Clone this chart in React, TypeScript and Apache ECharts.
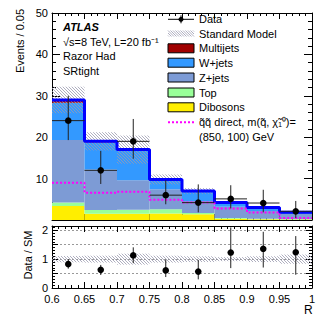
import React, { useEffect, useRef } from "react";
import * as echarts from "echarts";

// Bin edges of R
const binEdges = [0.6, 0.65, 0.7, 0.75, 0.8, 0.85, 0.9, 0.95, 1.0];
// Background components (events / 0.05)
const dibosons = [3.4, 1.5, 1.5, 1.6, 1.4, 0.3, 0.2, 0.1];
const topQuark = [0.85, 0.9, 1.0, 1.0, 0.3, 0.2, 0.1, 0.1];
const zjets = [15.05, 9.8, 7.1, 4.8, 2.9, 2.7, 1.9, 1.25];
const wjets = [9.0, 6.5, 7.1, 2.2, 2.2, 0.9, 0.7, 0.4];
const multijets = [0.7, 0.3, 0.3, 0.2, 0.2, 0.1, 0.1, 0.05];
// SM uncertainty (absolute)
const smUnc = [3.2, 2.2, 3.4, 1.2, 0.7, 0.3, 0.3, 0.3];
// Signal
const signal = [9.0, 6.6, 6.8, 4.9, 4.2, 2.8, 1.8, 0.5];
// Data
const dataVals = [24, 12, 19, 6, 4.2, 5.1, 4.1, 2.1];
const dataLo = [19.3, 8.7, 14.8, 3.8, 1.85, 2.8, 1.85, 0.5];
const dataHi = [30, 16.7, 24.4, 9.6, 8.6, 8.4, 7.3, 4.6];
// Ratio panel
const ratioVals = [0.83, 0.63, 1.13, 0.61, 0.57, 1.23, 1.36, 1.24];
const ratioLo = [0.67, 0.45, 0.86, 0.38, 0.3, 0.69, 0.71, 0.46];
const ratioHi = [1.0, 0.8, 1.41, 0.98, 0.97, 2.1, 1.95, 1.8];
const ratioUnc = [0.11, 0.12, 0.19, 0.12, 0.1, 0.07, 0.1, 0.16];

const FONT = "Liberation Sans, Arial, Helvetica, sans-serif";
const HATCH = "#9a9ab0";

function hatchLines(x0: number, y0: number, x1: number, y1: number, spacing: number, color: string) {
  const out: any[] = [];
  const cStart = x0 - y1;
  const cEnd = x1 - y0;
  const first = Math.ceil(cStart / spacing) * spacing;
  for (let c = first; c <= cEnd; c += spacing) {
    const xa = Math.max(x0, y0 + c);
    const xb = Math.min(x1, y1 + c);
    if (xb > xa) {
      out.push({
        type: "line",
        shape: { x1: xa, y1: xa - c, x2: xb, y2: xb - c },
        style: { stroke: color, lineWidth: 0.8 },
        silent: true,
      });
    }
  }
  return out;
}

export default function App() {
  const ref = useRef<HTMLDivElement>(null);
  useEffect(() => {
    const chart = echarts.init(ref.current!, null, { renderer: "svg" });
    const nb = dataVals.length;
    const comps = [
      { name: "Dibosons", vals: dibosons, color: "#ffee00" },
      { name: "Top", vals: topQuark, color: "#99ff99" },
      { name: "Z+jets", vals: zjets, color: "#7d9bd5" },
      { name: "W+jets", vals: wjets, color: "#3399ff" },
      { name: "Multijets", vals: multijets, color: "#a00000" },
    ];
    const base = new Array(nb).fill(0);
    const series: any[] = [];
    const rectRender = (color: string) => (params: any, api: any) => {
      const p0 = api.coord([api.value(0), api.value(3)]);
      const p1 = api.coord([api.value(1), api.value(2)]);
      return {
        type: "rect",
        shape: { x: p0[0], y: p0[1], width: p1[0] - p0[0], height: p1[1] - p0[1] },
        style: { fill: color },
      };
    };
    comps.forEach((c) => {
      const d = c.vals.map((v, i) => {
        const row = [binEdges[i], binEdges[i + 1], base[i], base[i] + v];
        base[i] += v;
        return row;
      });
      series.push({
        type: "custom",
        name: c.name,
        xAxisIndex: 0,
        yAxisIndex: 0,
        clip: true,
        renderItem: rectRender(c.color),
        encode: { x: [0, 1], y: [2, 3] },
        data: d,
      });
    });
    const total = base.slice();

    const hatchRender = (params: any, api: any) => {
      const p0 = api.coord([api.value(0), api.value(3)]);
      const p1 = api.coord([api.value(1), api.value(2)]);
      return { type: "group", children: hatchLines(p0[0], p0[1], p1[0], p1[1], 3, HATCH) };
    };
    series.push({
      type: "custom",
      xAxisIndex: 0,
      yAxisIndex: 0,
      clip: true,
      renderItem: hatchRender,
      encode: { x: [0, 1], y: [2, 3] },
      data: total.map((t, i) => [binEdges[i], binEdges[i + 1], t - smUnc[i], t + smUnc[i]]),
    });
    const stepData = (vals: number[]) => {
      const d = vals.map((v, i) => [binEdges[i], v]);
      d.push([binEdges[nb], vals[nb - 1]]);
      return d;
    };
    series.push({
      type: "line",
      xAxisIndex: 0,
      yAxisIndex: 0,
      step: "end",
      symbol: "none",
      data: stepData(total),
      lineStyle: { color: "#0000ff", width: 3 },
      z: 3,
    });
    series.push({
      type: "line",
      xAxisIndex: 0,
      yAxisIndex: 0,
      step: "end",
      symbol: "none",
      data: stepData(signal),
      lineStyle: { color: "#ff00ff", width: 2, type: [2, 2] },
      z: 4,
    });
    const pointRender = (params: any, api: any) => {
      const c = api.coord([api.value(0), api.value(1)]);
      const lo = api.coord([api.value(0), api.value(2)]);
      const hi = api.coord([api.value(0), api.value(3)]);
      const l = api.coord([api.value(4), api.value(1)]);
      const r = api.coord([api.value(5), api.value(1)]);
      return {
        type: "group",
        children: [
          { type: "line", shape: { x1: l[0], y1: c[1], x2: r[0], y2: c[1] }, style: { stroke: "#222", lineWidth: 1 } },
          { type: "line", shape: { x1: c[0], y1: lo[1], x2: c[0], y2: hi[1] }, style: { stroke: "#222", lineWidth: 1 } },
          { type: "circle", shape: { cx: c[0], cy: c[1], r: 3.3 }, style: { fill: "#000" } },
        ],
      };
    };
    series.push({
      type: "custom",
      xAxisIndex: 0,
      yAxisIndex: 0,
      clip: true,
      renderItem: pointRender,
      encode: { x: 0, y: [1, 2, 3] },
      data: dataVals.map((v, i) => [
        (binEdges[i] + binEdges[i + 1]) / 2, v, dataLo[i], dataHi[i], binEdges[i], binEdges[i + 1],
      ]),
      z: 5,
    });
    // Ratio panel
    series.push({
      type: "custom",
      xAxisIndex: 2,
      yAxisIndex: 2,
      clip: true,
      renderItem: hatchRender,
      encode: { x: [0, 1], y: [2, 3] },
      data: ratioUnc.map((u, i) => [binEdges[i], binEdges[i + 1], 1 - u, 1 + u]),
    });
    series.push({
      type: "custom",
      xAxisIndex: 2,
      yAxisIndex: 2,
      clip: true,
      renderItem: (params: any, api: any) => {
        const c = api.coord([api.value(0), api.value(1)]);
        const lo = api.coord([api.value(0), api.value(2)]);
        const hi = api.coord([api.value(0), api.value(3)]);
        return {
          type: "group",
          children: [
            { type: "line", shape: { x1: c[0], y1: lo[1], x2: c[0], y2: hi[1] }, style: { stroke: "#222", lineWidth: 1 } },
            { type: "circle", shape: { cx: c[0], cy: c[1], r: 3.3 }, style: { fill: "#000" } },
          ],
        };
      },
      encode: { x: 0, y: [1, 2, 3] },
      data: ratioVals.map((v, i) => [(binEdges[i] + binEdges[i + 1]) / 2, v, ratioLo[i], ratioHi[i]]),
      z: 5,
    });

    const black = { color: "#000", width: 1 };
    const xBase = (grid: number, pos: string, labels: boolean) => ({
      type: "value",
      gridIndex: grid,
      position: pos,
      min: 0.6,
      max: 1.0,
      interval: 0.05,
      axisLine: { show: true, onZero: false, lineStyle: black },
      axisTick: { show: true, inside: true, length: 6, lineStyle: black },
      minorTick: { show: true, splitNumber: 5, length: 3, lineStyle: black },
      splitLine: { show: false },
      axisLabel: labels
        ? {
            show: true,
            fontSize: 11,
            fontFamily: FONT,
            color: "#000",
            margin: 5,
            showMaxLabel: true,
            formatter: (v: number) => String(Number(v.toFixed(2))),
          }
        : { show: false },
    });
    const yMain = (pos: string, labels: boolean) => ({
      type: "value",
      gridIndex: 0,
      position: pos,
      min: 0,
      max: 50,
      interval: 10,
      axisLine: { show: true, onZero: false, lineStyle: black },
      axisTick: { show: true, inside: true, length: 8, lineStyle: black },
      minorTick: { show: true, splitNumber: 5, length: 4, lineStyle: black },
      splitLine: { show: false },
      axisLabel: labels
        ? {
            show: true,
            fontSize: 11,
            fontFamily: FONT,
            color: "#000",
            margin: 4,
            showMinLabel: false,
            formatter: (v: number) => (v === 0 ? "" : String(v)),
          }
        : { show: false },
    });
    const yRatio = (pos: string, labels: boolean) => ({
      type: "value",
      gridIndex: 1,
      position: pos,
      min: 0,
      max: 2.15,
      interval: 0.5,
      axisLine: { show: true, onZero: false, lineStyle: black },
      axisTick: { show: true, inside: true, length: 6, lineStyle: black },
      minorTick: { show: true, splitNumber: 5, length: 3, lineStyle: black },
      splitLine: labels ? { show: true, lineStyle: { color: "#999", type: [2, 2], width: 1 } } : { show: false },
      axisLabel: labels
        ? {
            show: true,
            fontSize: 11,
            fontFamily: FONT,
            color: "#000",
            margin: 4,
            formatter: (v: number) => (v === 0 || v === 1 || v === 2 ? String(v) : ""),
          }
        : { show: false },
    });

    const legX0 = 168;
    const legX1 = 194;
    const legTx = 199;
    const legRows = [19.3, 33.5, 48.3, 62.7, 77.5, 92.5, 107.3, 122.3, 136.5];
    const txt = (x: number, y: number, text: string, extra: any = {}) => ({
      type: "text",
      x,
      y,
      silent: true,
      style: {
        text,
        fill: "#000",
        font: `11px ${FONT}`,
        verticalAlign: "middle",
        align: "left",
        ...extra,
      },
      z: 100,
    });
    const graphics: any[] = [];
    // legend: data
    graphics.push({ type: "line", shape: { x1: legX0, y1: legRows[0], x2: legX1, y2: legRows[0] }, style: { stroke: "#000", lineWidth: 1 }, z: 100 });
    graphics.push({ type: "line", shape: { x1: (legX0 + legX1) / 2, y1: legRows[0] - 4, x2: (legX0 + legX1) / 2, y2: legRows[0] + 4 }, style: { stroke: "#000", lineWidth: 1 }, z: 100 });
    graphics.push({ type: "circle", shape: { cx: (legX0 + legX1) / 2, cy: legRows[0], r: 2.5 }, style: { fill: "#000" }, z: 100 });
    graphics.push(txt(legTx, legRows[0], "Data"));
    // legend: SM hatch
    graphics.push({
      type: "group",
      z: 100,
      children: hatchLines(legX0, legRows[1] - 3, legX1, legRows[1] + 3, 2.5, HATCH),
    });
    graphics.push(txt(legTx, legRows[1], "Standard Model"));
    const boxes = [
      { name: "Multijets", color: "#a00000" },
      { name: "W+jets", color: "#3399ff" },
      { name: "Z+jets", color: "#7d9bd5" },
      { name: "Top", color: "#99ff99" },
      { name: "Dibosons", color: "#ffee00" },
    ];
    boxes.forEach((b, k) => {
      const y = legRows[2 + k];
      graphics.push({
        type: "rect",
        shape: { x: legX0, y: y - 4.5, width: legX1 - legX0, height: 9 },
        style: { fill: b.color, stroke: "#000", lineWidth: 1 },
        z: 100,
      });
      graphics.push(txt(legTx, y, b.name));
    });
    graphics.push({
      type: "line",
      shape: { x1: legX0, y1: legRows[7], x2: legX1, y2: legRows[7] },
      style: { stroke: "#ff00ff", lineWidth: 2, lineDash: [2, 2] },
      z: 100,
    });
    graphics.push(txt(legTx, legRows[7], "q\u0303q\u0303 direct, m(q\u0303, \u03c7\u0303\u2081\u2070)="));
    graphics.push(txt(legTx, legRows[8], "(850, 100) GeV"));
    // ATLAS labels
    graphics.push(txt(63, 26.7, "ATLAS", { font: `bold italic 11px ${FONT}` }));
    graphics.push(txt(63, 41.7, "\u221as=8 TeV, L=20 fb\u207b\u00b9"));
    graphics.push(txt(63, 56, "Razor Had"));
    graphics.push(txt(63, 71, "SRtight"));
    // axis titles
    graphics.push({
      type: "text",
      x: 20,
      y: 41,
      rotation: Math.PI / 2,
      silent: true,
      style: { text: "Events / 0.05", fill: "#000", font: `11px ${FONT}`, align: "center", verticalAlign: "middle" },
    });
    graphics.push({
      type: "text",
      x: 28,
      y: 255,
      rotation: Math.PI / 2,
      silent: true,
      style: { text: "Data / SM", fill: "#000", font: `11px ${FONT}`, align: "center", verticalAlign: "middle" },
    });
    graphics.push(txt(304, 310, "R", { font: `12px ${FONT}` }));

    const option: any = {
      animation: false,
      backgroundColor: "#fff",
      grid: [
        { left: 52, top: 13, width: 260, height: 207 },
        { left: 52, top: 226, width: 260, height: 62 },
      ],
      xAxis: [xBase(0, "bottom", false), xBase(0, "top", false), xBase(1, "bottom", true), xBase(1, "top", false)],
      yAxis: [yMain("left", true), yMain("right", false), yRatio("left", true), yRatio("right", false)],
      series,
      graphic: graphics,
    };
    chart.setOption(option);
    return () => chart.dispose();
  }, []);
  return <div ref={ref} style={{ position: "absolute", left: 0, top: 0, width: 332, height: 319 }} />;
}
